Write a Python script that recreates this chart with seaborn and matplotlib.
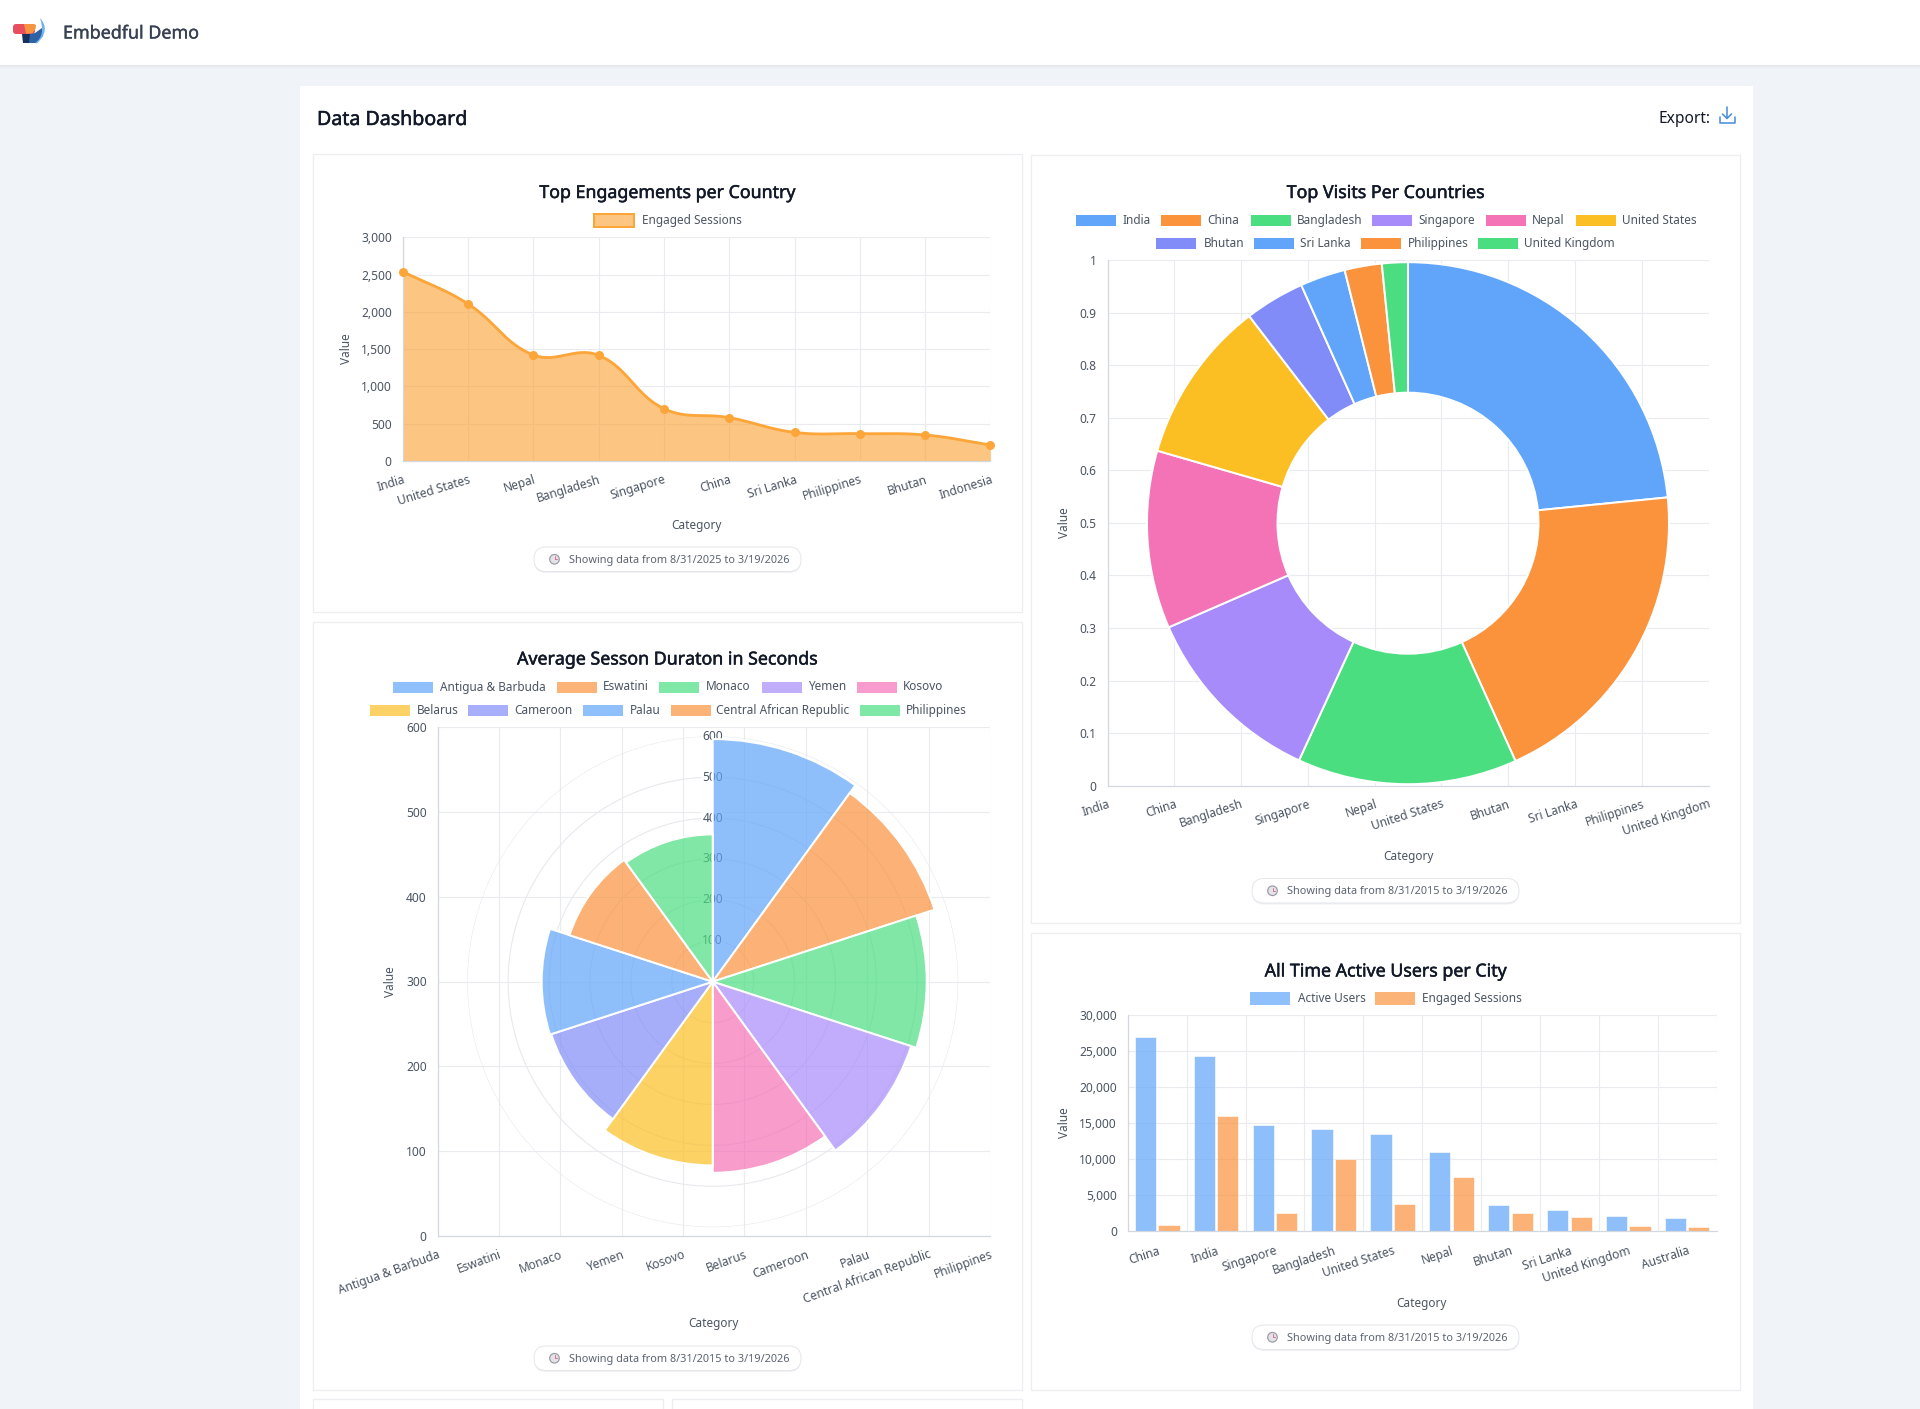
import numpy as np
import pandas as pd
import matplotlib
matplotlib.use("Agg")
import matplotlib.pyplot as plt
import matplotlib.patheffects as pe
from matplotlib.patches import Rectangle, FancyBboxPatch, Circle, Polygon, PathPatch
from matplotlib.path import Path
from matplotlib.ticker import FuncFormatter, FixedLocator
import seaborn as sns

# ---- data ----------------------------------------------------------------
engagement_countries = ["India", "United States", "Nepal", "Bangladesh", "Singapore",
                        "China", "Sri Lanka", "Philippines", "Bhutan", "Indonesia"]
engaged_sessions = [2539, 2106, 1422, 1417, 702, 581, 384, 367, 349, 215]

visit_countries = ["India", "China", "Bangladesh", "Singapore", "Nepal", "United States",
                   "Bhutan", "Sri Lanka", "Philippines", "United Kingdom"]
visit_shares = [23.4, 19.8, 13.6, 11.6, 11.0, 10.1, 3.7, 2.8, 2.3, 1.6]

duration_countries = ["Antigua & Barbuda", "Eswatini", "Monaco", "Yemen", "Kosovo", "Belarus",
                      "Cameroon", "Palau", "Central African Republic", "Philippines"]
duration_seconds = [593, 570, 523, 510, 467, 449, 415, 418, 368, 360]
radial_ticks = [100, 200, 300, 400, 500, 600]

city_labels = ["China", "India", "Singapore", "Bangladesh", "United States", "Nepal",
               "Bhutan", "Sri Lanka", "United Kingdom", "Australia"]
active_users = [27030, 24390, 14790, 14235, 13490, 10940, 3617, 2968, 2040, 1762]
city_engaged_sessions = [881, 15997, 2457, 9969, 3802, 7512, 2504, 1901, 696, 556]

slice_colors = ["#60a5fa", "#fb923c", "#4ade80", "#a78bfa", "#f472b6",
                "#fbbf24", "#818cf8", "#60a5fa", "#fb923c", "#4ade80"]

# ---- theme ---------------------------------------------------------------
W, H = 1920, 1409
PX = 0.72  # one pixel in points at dpi 100
FONT = "Noto Sans"
GRID = "#e9ebef"
AXIS = "#d3d7df"
TICK_TEXT = "#4b5563"
TITLE_TEXT = "#111827"
TICK_SIZE = 12
SMALL_SIZE = 11.8
TITLE_SIZE = 17.8

sns.set_theme(style="whitegrid")
plt.rcParams["font.family"] = [FONT, "DejaVu Sans"]
plt.rcParams["axes.unicode_minus"] = False

fig = plt.figure(figsize=(W / 100, H / 100), dpi=100, facecolor="#f0f4f9")


def axes_px(left, top, right, bottom, **kw):
    ax = fig.add_axes([left / W, 1 - bottom / H, (right - left) / W, (bottom - top) / H], **kw)
    ax.patch.set_alpha(0)
    return ax


page = axes_px(0, 0, W, H, zorder=0)
page.set_xlim(0, W)
page.set_ylim(H, 0)
page.axis("off")


def rect(x0, y0, x1, y1, fc="white", ec="none", lw=0, **kw):
    page.add_patch(Rectangle((x0, y0), x1 - x0, y1 - y0, facecolor=fc, edgecolor=ec, linewidth=lw, **kw))


def label(x, y, s, size_px=SMALL_SIZE, color=TICK_TEXT, ha="center", rotation=0, heavy=0.0):
    t = page.text(x, y, s, fontsize=size_px * PX, color=color, ha=ha, va="center",
                  rotation=rotation, rotation_mode="anchor")
    if heavy:
        # a thin outline gives the medium weight the installed family lacks
        t.set_path_effects([pe.withStroke(linewidth=heavy, foreground=color)])


def title(x, y, s):
    label(x, y + 1.5, s, size_px=TITLE_SIZE, color=TITLE_TEXT, heavy=0.35)


def style_cartesian(ax, rotation):
    ax.set_xlabel("")
    ax.set_ylabel("")
    ax.grid(True, which="both", color=GRID, linewidth=1.1 * PX)
    ax.set_axisbelow(True)
    for name, spine in ax.spines.items():
        spine.set_visible(name in ("left", "bottom"))
        spine.set_color(AXIS)
        spine.set_linewidth(1.2 * PX)
    ax.tick_params(axis="y", length=8 * PX, width=1 * PX, color=GRID, labelsize=TICK_SIZE * PX,
                   labelcolor=TICK_TEXT, pad=3 * PX)
    ax.tick_params(axis="x", which="both", length=8 * PX, width=1 * PX, color=GRID, labelsize=TICK_SIZE * PX,
                   labelcolor=TICK_TEXT, pad=4 * PX)
    for t in ax.get_xticklabels():
        t.set_rotation(rotation)
        t.set_ha("right")
        t.set_rotation_mode("anchor")
        t.set_va("top")


def date_pill(x0, x1, y0, y1, text):
    h = y1 - y0
    shadow = FancyBboxPatch((x0, y0 + 1.5), x1 - x0, h, boxstyle=f"round,pad=0,rounding_size={h / 2}",
                            facecolor="#eff0f3", edgecolor="none")
    page.add_patch(shadow)
    pill = FancyBboxPatch((x0, y0), x1 - x0, h, boxstyle=f"round,pad=0,rounding_size={h / 2}",
                          facecolor="white", edgecolor="#e5e7eb", linewidth=1 * PX)
    page.add_patch(pill)
    cx, cy = x0 + 20.5, (y0 + y1) / 2
    page.add_patch(Circle((cx, cy), 4.8, facecolor="#e4e3e8", edgecolor="#9a9ca6", linewidth=1.2 * PX))
    page.plot([cx, cx, cx + 2.6], [cy - 3, cy, cy], color="#d9678f", lw=0.9 * PX, solid_capstyle="round")
    label(x0 + 35, cy + 1.2, text, size_px=10.9, ha="left", color="#5b6472")


def legend_entry(x_box, x_text, y, name, fill, edge=None, height=11, lw=1.0):
    rect(x_box, y - height / 2, x_box + 40, y + height / 2, fc=fill,
         ec=edge if edge else "none", lw=lw * PX)
    label(x_text, y, name, ha="left", color=TICK_TEXT)


def soften(hex_color, alpha=0.7):
    rgb = np.array(matplotlib.colors.to_rgb(hex_color))
    return tuple(rgb * alpha + (1 - alpha))


# ---- page chrome ---------------------------------------------------------
for i, shade in enumerate(["#d5d8de", "#e2e5ea", "#e8ecf1", "#ebeff4", "#eef2f7"]):
    rect(0, 64 + i, W, 65 + i, fc=shade)
rect(0, 0, W, 64.5)
rect(300, 85.5, 1752.8, H)

# logo mark
page.add_patch(FancyBboxPatch((13, 24), 22, 10, boxstyle="round,pad=0,rounding_size=3", fc="#e94e5e", ec="none"))
page.add_patch(Polygon([(24, 24), (34, 24), (36, 25), (35.5, 29), (32, 33.5), (26, 33.5)], closed=True, fc="#f7943f", ec="none"))
page.add_patch(Polygon([(22, 34), (31, 34), (30, 43), (23, 43)], closed=True, fc="#16315e", ec="none"))
page.add_patch(Polygon([(30, 34), (35, 33), (42, 28), (43, 36), (36, 43), (29, 43)], closed=True, fc="#2d63a4", ec="none"))
page.add_patch(PathPatch(Path([(40, 18), (51, 30), (37, 43.5), (35, 43), (46, 36), (40, 18)],
                              [Path.MOVETO, Path.CURVE3, Path.CURVE3, Path.LINETO, Path.CURVE3, Path.CURVE3]),
                         fc="#6fb2ee", ec="none"))
label(63, 33.5, "Embedful Demo", size_px=17.9, ha="left", color="#374151", heavy=0.25)
label(317, 120, "Data Dashboard", size_px=19.6, ha="left", color=TITLE_TEXT, heavy=0.35)
label(1659, 119, "Export:", size_px=15.5, ha="left", color=TITLE_TEXT)
page.plot([1727, 1727], [107, 118], color="#4a90d9", lw=1.6 * PX)
page.plot([1722.5, 1727, 1731.5], [114, 118.5, 114], color="#4a90d9", lw=1.6 * PX)
page.plot([1719.5, 1719.5, 1734.5, 1734.5], [116.5, 122.5, 122.5, 116.5], color="#4a90d9", lw=1.6 * PX)

# chart cards
for x0, y0, x1, y1 in [(313, 154, 1022, 612), (313, 621.5, 1022, 1389.5),
                       (1031, 154.5, 1740, 922.5), (1031, 932.5, 1740, 1389.5),
                       (313, 1399, 662.5, 1420), (672, 1399, 1022, 1420)]:
    rect(x0, y0, x1, y1, fc="white", ec="#eceef1", lw=1.3 * PX)

# ---- Top Engagements per Country ------------------------------------------
title(667.5, 191.5, "Top Engagements per Country")
area_line = "#fca539"
legend_entry(594, 642, 220.5, "Engaged Sessions", matplotlib.colors.to_rgba("#fb9f2e", 0.6), edge=area_line, height=13, lw=2)


def spline_curve(xs, ys, tension=0.4, steps=40):
    """Bezier smoothing between consecutive points, with control points scaled by neighbour distance."""
    pts = np.column_stack([xs, ys]).astype(float)
    n = len(pts)
    out_cp, in_cp = pts.copy(), pts.copy()
    for i in range(n):
        prev_p = pts[max(i - 1, 0)]
        next_p = pts[min(i + 1, n - 1)]
        d01, d12 = np.linalg.norm(pts[i] - prev_p), np.linalg.norm(next_p - pts[i])
        total = d01 + d12
        in_cp[i] = pts[i] - tension * d01 / total * (next_p - prev_p)
        out_cp[i] = pts[i] + tension * d12 / total * (next_p - prev_p)
    t = np.linspace(0, 1, steps)[:, None]
    segs = [(1 - t) ** 3 * pts[i] + 3 * (1 - t) ** 2 * t * out_cp[i] + 3 * (1 - t) * t ** 2 * in_cp[i + 1]
            + t ** 3 * pts[i + 1] for i in range(n - 1)]
    return np.vstack(segs)


ax1 = axes_px(402.7, 237.2, 990.4, 461.0, zorder=2)
x_pos = np.arange(len(engagement_countries))
# smooth the curve in screen proportions so the bends follow the plotted shape
sx, sy = 587.7 / 9, 223.8 / 3000
curve = spline_curve(x_pos * sx, np.array(engaged_sessions) * sy)
ax1.fill_between(curve[:, 0] / sx, curve[:, 1] / sy, 0, color="#fb9f2e", alpha=0.6, linewidth=0, zorder=2)
ax1.plot(curve[:, 0] / sx, curve[:, 1] / sy, color=area_line, lw=2.8 * PX, zorder=3)
sns.scatterplot(x=x_pos, y=engaged_sessions, color=area_line, s=(9 * PX) ** 2, linewidth=0, ax=ax1,
                zorder=4, clip_on=False)
ax1.set_xlim(0, 9)
ax1.set_ylim(0, 3000)
ax1.set_yticks(range(0, 3001, 500))
ax1.yaxis.set_major_formatter(FuncFormatter(lambda v, _: f"{int(v):,}"))
ax1.set_xticks(x_pos, engagement_countries)
style_cartesian(ax1, 17)
label(346, 349, "Value", rotation=90)
label(696.5, 525, "Category")
date_pill(534, 801, 547, 571.5, "Showing data from 8/31/2025 to 3/19/2026")

# ---- Average Session Duration ---------------------------------------------
title(667.5, 658, "Average Sesson Duraton in Seconds")
row1_boxes = [393, 556.5, 659, 762, 856.5]
row1_texts = [439.5, 603, 705.5, 808, 902.5]
row2_boxes = [370, 467.5, 582.7, 670.5, 859.5]
row2_texts = [417, 514.3, 629.5, 716.5, 906]
for i in range(5):
    legend_entry(row1_boxes[i], row1_texts[i], 687, duration_countries[i], soften(slice_colors[i]))
    legend_entry(row2_boxes[i], row2_texts[i], 710.5, duration_countries[i + 5], soften(slice_colors[i + 5]))

ax2 = axes_px(437.6, 727.0, 990, 1236.0, zorder=1)
ax2.set_xlim(0, 9)
ax2.set_ylim(0, 600)
ax2.set_yticks(range(0, 601, 100))
ax2.set_xticks(np.arange(len(duration_countries)), duration_countries)
style_cartesian(ax2, 20)
label(390, 982, "Value", rotation=90)
label(713, 1323.2, "Category")
date_pill(534, 801, 1346, 1370.5, "Showing data from 8/31/2015 to 3/19/2026")

R2 = 245.5
polar = axes_px(712.7 - R2, 981.7 - R2, 712.7 + R2, 981.7 + R2, projection="polar", zorder=2)
polar.set_theta_zero_location("N")
polar.set_theta_direction(-1)
polar.set_ylim(0, 600)
polar.set_xticks([])
polar.set_yticks(radial_ticks)
polar.set_yticklabels([])
polar.tick_params(axis="y", length=0)
polar.grid(True, axis="y", color="#e7e9ed", linewidth=1.1 * PX)
polar.spines["polar"].set_visible(False)
polar.set_axisbelow(True)
step = 2 * np.pi / len(duration_seconds)
polar.bar(np.arange(len(duration_seconds)) * step, duration_seconds, width=step, align="edge",
          color=[matplotlib.colors.to_rgba(c, 0.7) for c in slice_colors],
          edgecolor="white", linewidth=2 * PX, zorder=3)
for r in radial_ticks:
    polar.text(0, r, str(r), ha="center", va="center", fontsize=TICK_SIZE * PX, color=TICK_TEXT, zorder=1.5,
               bbox=dict(boxstyle="square,pad=0.1", fc="white", ec="none", alpha=0.75))

# ---- Top Visits Per Countries ---------------------------------------------
title(1385.5, 191.5, "Top Visits Per Countries")
d_row1_boxes = [1076, 1161, 1250.5, 1371.5, 1485.5, 1575.5]
d_row1_texts = [1122.7, 1207.7, 1297, 1418, 1532, 1622.3]
d_row2_boxes = [1156.3, 1253.6, 1360.6, 1478]
d_row2_texts = [1203.5, 1300, 1407.4, 1524.5]
for i in range(6):
    legend_entry(d_row1_boxes[i], d_row1_texts[i], 220.5, visit_countries[i], slice_colors[i])
for i in range(4):
    legend_entry(d_row2_boxes[i], d_row2_texts[i], 243.5, visit_countries[i + 6], slice_colors[i + 6])

ax3 = axes_px(1107.6, 260.0, 1708.6, 785.7, zorder=1)
ax3.set_xlim(0, 9)
ax3.set_ylim(0, 1)
ax3.set_yticks(np.arange(0, 11) / 10)
ax3.yaxis.set_major_formatter(FuncFormatter(lambda v, _: f"{v:g}"))
ax3.set_xticks(np.arange(len(visit_countries)), visit_countries)
style_cartesian(ax3, 18)
label(1064, 523, "Value", rotation=90)
label(1408, 856.7, "Category")
date_pill(1252, 1519, 878.5, 903, "Showing data from 8/31/2015 to 3/19/2026")

R3 = 261
donut = axes_px(1408 - R3, 523.2 - R3, 1408 + R3, 523.2 + R3, zorder=2)
donut.pie(visit_shares, colors=slice_colors, startangle=90, counterclock=False, radius=1,
          wedgeprops=dict(width=0.5, edgecolor="white", linewidth=2 * PX))
donut.set_xlim(-1, 1)
donut.set_ylim(-1, 1)

# ---- All Time Active Users per City ---------------------------------------
title(1385.5, 970, "All Time Active Users per City")
legend_entry(1249.5, 1298, 998.5, "Active Users", soften(slice_colors[0]), height=13)
legend_entry(1374.5, 1422.5, 998.5, "Engaged Sessions", soften(slice_colors[1]), height=13)

ax4 = axes_px(1127.8, 1015.2, 1716.5, 1231.0, zorder=2)
city_df = pd.DataFrame({"City": city_labels * 2,
                        "Value": active_users + city_engaged_sessions,
                        "Series": ["Active Users"] * 10 + ["Engaged Sessions"] * 10})
sns.barplot(data=city_df, x="City", y="Value", hue="Series", palette=slice_colors[:2], width=0.8, gap=0.1,
            alpha=0.7, saturation=1, legend=False, ax=ax4, edgecolor="white", linewidth=0.6)
ax4.set_xlim(-0.5, 9.5)
ax4.set_ylim(0, 30000)
ax4.set_yticks(range(0, 30001, 5000))
ax4.yaxis.set_major_formatter(FuncFormatter(lambda v, _: f"{int(v):,}"))
ax4.xaxis.set_minor_locator(FixedLocator(np.arange(-0.5, 10)))
ax4.set_xticks(np.arange(len(city_labels)), city_labels)
style_cartesian(ax4, 18)
ax4.grid(False, axis="x", which="major")
ax4.tick_params(axis="x", which="major", length=0, pad=9.5)
label(1064, 1123, "Value", rotation=90)
label(1421.5, 1303, "Category")
date_pill(1252, 1519, 1325, 1349.5, "Showing data from 8/31/2015 to 3/19/2026")

fig.savefig("out.png", dpi=100, facecolor=fig.get_facecolor())
